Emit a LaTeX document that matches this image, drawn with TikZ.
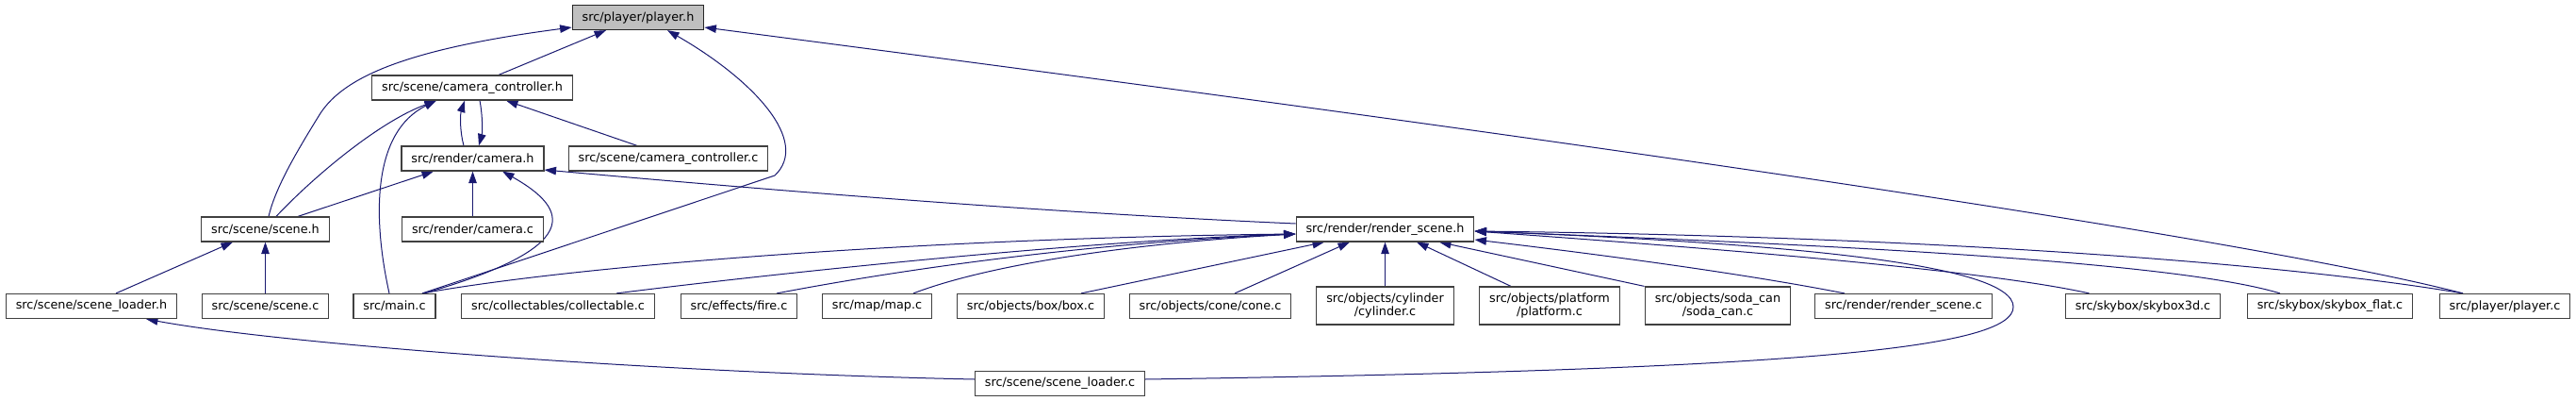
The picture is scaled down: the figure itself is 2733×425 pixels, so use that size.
\documentclass[tikz,border=0pt]{standalone}
\usepackage{fontspec}
\setmainfont{DejaVu Sans}
\usetikzlibrary{arrows.meta}
\definecolor{edgeblue}{RGB}{25,25,112}
\definecolor{nodeborder}{RGB}{64,64,64}
\definecolor{rootfill}{RGB}{191,191,191}
\pgfdeclarelayer{back}
\pgfdeclarelayer{bg}
\pgfsetlayers{back,bg,main}
\begin{document}
\begin{tikzpicture}[x=1pt,y=-1pt,
  nd/.style={draw=nodeborder, fill=white, line width=1.2pt,
    font=\fontsize{12.8}{14.3}\selectfont, inner xsep=10.4pt, inner ysep=0pt,
    minimum height=26pt, align=center},
  twoline/.style={minimum height=40pt},
  root/.style={fill=rootfill, draw=black!85},
  dep/.style={draw=edgeblue, line width=1pt, {Triangle[length=12.5pt,width=8.5pt]}-}
]
\begin{pgfonlayer}{back}
\fill[white] (0,0) rectangle (2733,425);
\end{pgfonlayer}
\useasboundingbox (0,0) rectangle (2733,425);

% nodes
\node[nd,root] (ph) at (677,18.5) {src/player/player.h};
\node[nd] (cc) at (501,93) {src/scene/camera\_controller.h};
\node[nd] (cam) at (501.5,168) {src/render/camera.h};
\node[nd] (ccc) at (709,168) {src/scene/camera\_controller.c};
\node[nd] (sc) at (281.5,243) {src/scene/scene.h};
\node[nd] (camc) at (501.5,243) {src/render/camera.c};
\node[nd] (rs) at (1469.5,243) {src/render/render\_scene.h};
\node[nd] (slh) at (97,324.5) {src/scene/scene\_loader.h};
\node[nd] (scc) at (281.5,324.5) {src/scene/scene.c};
\node[nd] (mainc) at (418.5,324.5) {src/main.c};
\node[nd] (coll) at (592,324.5) {src/collectables/collectable.c};
\node[nd] (fire) at (784,324.5) {src/effects/fire.c};
\node[nd] (map) at (930.5,324.5) {src/map/map.c};
\node[nd] (box) at (1093.5,324.5) {src/objects/box/box.c};
\node[nd] (cone) at (1284,324.5) {src/objects/cone/cone.c};
\node[nd,twoline] (cyl) at (1469.5,324) {src/objects/cylinder\\/cylinder.c};
\node[nd,twoline] (plat) at (1644,324) {src/objects/platform\\/platform.c};
\node[nd,twoline] (soda) at (1822.5,324) {src/objects/soda\_can\\/soda\_can.c};
\node[nd] (rsc) at (2019.5,324.5) {src/render/render\_scene.c};
\node[nd] (s3d) at (2273.5,324.5) {src/skybox/skybox3d.c};
\node[nd] (sfl) at (2472,324.5) {src/skybox/skybox\_flat.c};
\node[nd] (pc) at (2657.5,324.5) {src/player/player.c};
\node[nd] (slc) at (1124.5,406.5) {src/scene/scene\_loader.c};

\coordinate (rsL) at ([yshift=-5pt]rs.west);
\coordinate (rsR1) at ([yshift=-2pt]rs.east);
\coordinate (rsR2) at ([yshift=-11pt]rs.east);

\begin{pgfonlayer}{bg}
% into player.h
\draw[dep] ([yshift=-10.5pt]ph.west) .. controls (430,52) and (365,82) .. (340,120)
  .. controls (312,165) and (292,200) .. ([xshift=3.5pt]sc.north);
\draw[dep] ([xshift=-34pt]ph.south) -- ([xshift=28pt]cc.north);
\draw[dep] ([xshift=31pt]ph.south) .. controls (800,85) and (860,150) .. (822,186)
  -- ([xshift=29.5pt]mainc.north);
\draw[dep] ([yshift=-10.5pt]ph.east) .. controls (1100,75) and (2300,230) .. ([xshift=-44.5pt]pc.north);

% into camera_controller.h
\draw[dep] ([xshift=-8pt]cc.south) .. controls (488,122) and (488,140) .. ([xshift=-9.5pt]cam.north);
\draw[dep] ([xshift=6.5pt]cam.north) .. controls (512,140) and (512,122) .. ([xshift=8pt]cc.south);
\draw[dep] ([xshift=-38pt]cc.south) .. controls (400,130) and (330,190) .. ([xshift=11.5pt]sc.north);
\draw[dep] ([xshift=-38pt]cc.south) .. controls (395,140) and (395,230) .. ([xshift=-5.5pt]mainc.north);
\draw[dep] ([xshift=36pt]cc.south) -- ([xshift=-33pt]ccc.north);

% into camera.h
\draw[dep] ([xshift=-41.5pt]cam.south) -- ([xshift=34.5pt]sc.north);
\draw[dep] (cam.south) -- (camc.north);
\draw[dep] ([xshift=31.5pt]cam.south) .. controls (605,222) and (620,262) .. ([xshift=31.5pt]mainc.north);
\draw[dep] ([yshift=-12pt]cam.east) .. controls (800,200) and (1100,225) .. ([yshift=6pt]rs.west);

% into scene.h
\draw[dep] ([xshift=-34.5pt]sc.south) -- ([xshift=26pt]slh.north);
\draw[dep] (sc.south) -- (scc.north);

% into scene_loader.h
\draw[dep] ([xshift=58pt]slh.south) .. controls (300,365) and (700,395) .. ([yshift=4.5pt]slc.west);

% into render_scene.h, left
\draw[dep] (rsL) .. controls (1000,252) and (620,280) .. ([xshift=29.5pt]mainc.north);
\draw[dep] (rsL) .. controls (1150,255) and (820,290) .. ([xshift=62pt]coll.north);
\draw[dep] (rsL) .. controls (1150,258) and (960,285) .. ([xshift=40pt]fire.north);
\draw[dep] (rsL) .. controls (1200,258) and (1050,280) .. ([xshift=38.5pt]map.north);

% into render_scene.h, bottom
\draw[dep] ([xshift=-64.5pt]rs.south) -- ([xshift=53.5pt]box.north);
\draw[dep] ([xshift=-37.5pt]rs.south) -- ([xshift=26pt]cone.north);
\draw[dep] (rs.south) -- (cyl.north);
\draw[dep] ([xshift=33.5pt]rs.south) -- ([xshift=-41pt]plat.north);
\draw[dep] ([xshift=57.5pt]rs.south) -- ([xshift=-78pt]soda.north);

% into render_scene.h, right
\draw[dep] (rsR2) .. controls (1700,270) and (1850,290) .. ([xshift=-62.5pt]rsc.north);
\draw[dep] (rsR1) .. controls (1800,262) and (2100,285) .. ([xshift=-57pt]s3d.north);
\draw[dep] (rsR1) .. controls (1900,258) and (2300,275) .. ([xshift=-53pt]sfl.north);
\draw[dep] (rsR1) .. controls (2000,250) and (2400,275) .. ([xshift=-44.5pt]pc.north);
\draw[dep] (rsR1) .. controls (1900,258) and (2135,280) .. (2136,325)
  .. controls (2137,370) and (1900,392) .. ([yshift=4.5pt]slc.east);
\end{pgfonlayer}
\end{tikzpicture}
\end{document}
